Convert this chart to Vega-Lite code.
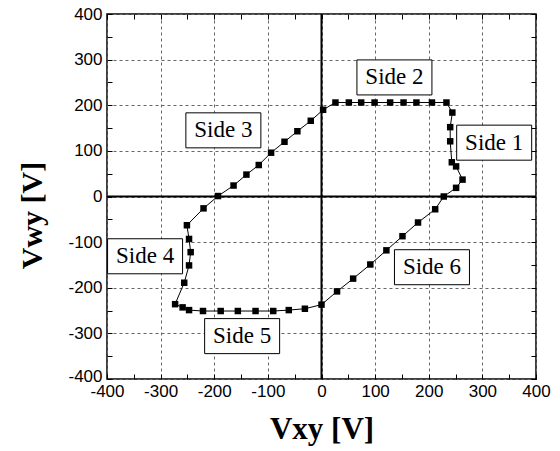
{
  "$schema": "https://vega.github.io/schema/vega-lite/v6.json",
  "width": 429,
  "height": 365,
  "autosize": {"type": "none"},
  "padding": {"left": 107, "top": 14, "right": 24, "bottom": 72},
  "background": "white",
  "config": {
    "view": {"stroke": "black", "strokeWidth": 1.5},
    "axis": {
      "domain": false,
      "labelFont": "Liberation Sans",
      "labelFontSize": 17,
      "labelColor": "black",
      "labelFlush": false,
      "labelOverlap": false,
      "tickColor": "black",
      "tickWidth": 1,
      "tickSize": -5,
      "titleFont": "Liberation Serif",
      "titleFontSize": 31,
      "titleFontWeight": "bold",
      "titleColor": "black"
    }
  },
  "datasets": {
    "loop": [
      {"i": 1, "vxy": 0, "vwy": -237},
      {"i": 2, "vxy": 29, "vwy": -208},
      {"i": 3, "vxy": 59, "vwy": -180},
      {"i": 4, "vxy": 91, "vwy": -149},
      {"i": 5, "vxy": 121, "vwy": -118},
      {"i": 6, "vxy": 151, "vwy": -87},
      {"i": 7, "vxy": 180, "vwy": -57},
      {"i": 8, "vxy": 212, "vwy": -28},
      {"i": 9, "vxy": 228, "vwy": 0},
      {"i": 10, "vxy": 251, "vwy": 19},
      {"i": 11, "vxy": 263, "vwy": 37},
      {"i": 12, "vxy": 251, "vwy": 66},
      {"i": 13, "vxy": 243, "vwy": 75},
      {"i": 14, "vxy": 240, "vwy": 121},
      {"i": 15, "vxy": 240, "vwy": 152},
      {"i": 16, "vxy": 244, "vwy": 184},
      {"i": 17, "vxy": 233, "vwy": 206},
      {"i": 18, "vxy": 206, "vwy": 206},
      {"i": 19, "vxy": 177, "vwy": 206},
      {"i": 20, "vxy": 153, "vwy": 206},
      {"i": 21, "vxy": 128, "vwy": 206},
      {"i": 22, "vxy": 99, "vwy": 206},
      {"i": 23, "vxy": 74, "vwy": 206},
      {"i": 24, "vxy": 51, "vwy": 206},
      {"i": 25, "vxy": 26, "vwy": 206},
      {"i": 26, "vxy": 3, "vwy": 190},
      {"i": 27, "vxy": -20, "vwy": 166},
      {"i": 28, "vxy": -45, "vwy": 143},
      {"i": 29, "vxy": -69, "vwy": 120},
      {"i": 30, "vxy": -94, "vwy": 96},
      {"i": 31, "vxy": -117, "vwy": 69},
      {"i": 32, "vxy": -140, "vwy": 48},
      {"i": 33, "vxy": -164, "vwy": 24},
      {"i": 34, "vxy": -193, "vwy": 1},
      {"i": 35, "vxy": -220, "vwy": -26},
      {"i": 36, "vxy": -251, "vwy": -63},
      {"i": 37, "vxy": -247, "vwy": -93},
      {"i": 38, "vxy": -244, "vwy": -122},
      {"i": 39, "vxy": -247, "vwy": -151},
      {"i": 40, "vxy": -256, "vwy": -189},
      {"i": 41, "vxy": -273, "vwy": -236},
      {"i": 42, "vxy": -259, "vwy": -243},
      {"i": 43, "vxy": -247, "vwy": -249},
      {"i": 44, "vxy": -221, "vwy": -251},
      {"i": 45, "vxy": -188, "vwy": -251},
      {"i": 46, "vxy": -156, "vwy": -251},
      {"i": 47, "vxy": -123, "vwy": -251},
      {"i": 48, "vxy": -90, "vwy": -251},
      {"i": 49, "vxy": -61, "vwy": -249},
      {"i": 50, "vxy": -31, "vwy": -246},
      {"i": 51, "vxy": 0, "vwy": -237}
    ],
    "sides": [
      {"label": "Side 1", "vxy": 322, "vwy": 118},
      {"label": "Side 2", "vxy": 136, "vwy": 261},
      {"label": "Side 3", "vxy": -183, "vwy": 145},
      {"label": "Side 4", "vxy": -329, "vwy": -131},
      {"label": "Side 5", "vxy": -148, "vwy": -306},
      {"label": "Side 6", "vxy": 206, "vwy": -155}
    ],
    "origin": [{"v": 0}]
  },
  "resolve": {"axis": {"x": "independent", "y": "independent"}},
  "layer": [
    {
      "data": {"name": "loop"},
      "mark": {"type": "line", "color": "black", "strokeWidth": 1},
      "encoding": {
        "x": {
          "field": "vxy",
          "type": "quantitative",
          "scale": {"domain": [-400, 400], "nice": false, "zero": false},
          "axis": {
            "orient": "bottom",
            "values": [-400, -350, -300, -250, -200, -150, -100, -50, 0, 50, 100, 150, 200, 250, 300, 350, 400],
            "labelExpr": "datum.value % 100 == 0 ? toString(datum.value) : ''",
            "labelPadding": 9,
            "grid": true,
            "gridColor": "#666666",
            "gridDash": [3, 3],
            "gridWidth": 1,
            "gridOpacity": {"condition": {"test": "datum.value % 100 != 0", "value": 0}, "value": 1},
            "title": "Vxy [V]",
            "titlePadding": 15
          }
        },
        "y": {
          "field": "vwy",
          "type": "quantitative",
          "scale": {"domain": [-400, 400], "nice": false, "zero": false},
          "axis": {
            "orient": "left",
            "values": [-400, -350, -300, -250, -200, -150, -100, -50, 0, 50, 100, 150, 200, 250, 300, 350, 400],
            "labelExpr": "datum.value % 100 == 0 ? toString(datum.value) : ''",
            "labelPadding": 10,
            "labelOffset": {"condition": {"test": "datum.value == -400", "value": -3}, "value": 0},
            "grid": true,
            "gridColor": "#666666",
            "gridDash": [3, 3],
            "gridWidth": 1,
            "gridOpacity": {"condition": {"test": "datum.value % 100 != 0", "value": 0}, "value": 1},
            "title": "Vwy [V]",
            "titleFontSize": 30,
            "titlePadding": 20,
            "titleY": 201
          }
        },
        "order": {"field": "i", "type": "quantitative"}
      }
    },
    {
      "data": {"name": "origin"},
      "mark": {"type": "rule", "color": "black", "strokeWidth": 2},
      "encoding": {
        "x": {
          "field": "v",
          "type": "quantitative",
          "axis": {
            "orient": "top",
            "values": [-400, -350, -300, -250, -200, -150, -100, -50, 0, 50, 100, 150, 200, 250, 300, 350, 400],
            "labels": false,
            "grid": false,
            "title": null
          }
        }
      }
    },
    {
      "data": {"name": "origin"},
      "mark": {"type": "rule", "color": "black", "strokeWidth": 2},
      "encoding": {
        "y": {
          "field": "v",
          "type": "quantitative",
          "axis": {
            "orient": "right",
            "values": [-400, -350, -300, -250, -200, -150, -100, -50, 0, 50, 100, 150, 200, 250, 300, 350, 400],
            "labels": false,
            "grid": false,
            "title": null
          }
        }
      }
    },
    {
      "data": {"name": "loop"},
      "transform": [{"filter": "datum.i <= 50"}],
      "mark": {"type": "point", "shape": "square", "filled": true, "color": "black", "size": 42, "opacity": 1},
      "encoding": {
        "x": {"field": "vxy", "type": "quantitative", "axis": null},
        "y": {"field": "vwy", "type": "quantitative", "axis": null}
      }
    },
    {
      "data": {"name": "sides"},
      "mark": {
        "type": "point",
        "shape": "M-1,-0.467H1V0.467H-1Z",
        "size": 5625,
        "filled": true,
        "fill": "white",
        "stroke": "black",
        "strokeWidth": 1,
        "opacity": 1
      },
      "encoding": {
        "x": {"field": "vxy", "type": "quantitative", "axis": null},
        "y": {"field": "vwy", "type": "quantitative", "axis": null}
      }
    },
    {
      "data": {"name": "sides"},
      "mark": {
        "type": "text",
        "font": "Liberation Serif",
        "fontSize": 23,
        "color": "black",
        "align": "center",
        "baseline": "middle"
      },
      "encoding": {
        "x": {"field": "vxy", "type": "quantitative", "axis": null},
        "y": {"field": "vwy", "type": "quantitative", "axis": null},
        "text": {"field": "label"}
      }
    }
  ]
}
